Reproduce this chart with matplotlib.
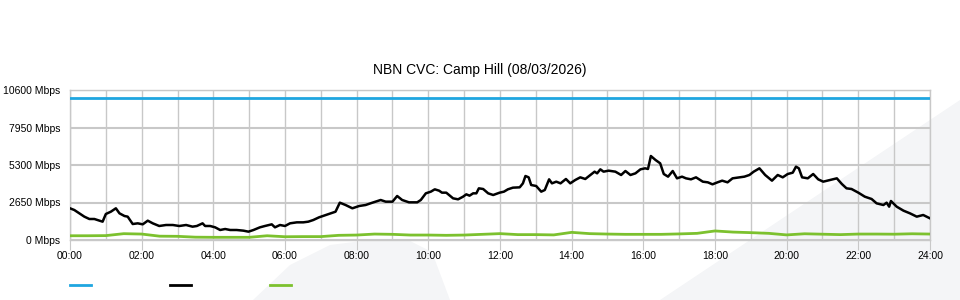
import matplotlib.pyplot as plt
from matplotlib.lines import Line2D
from matplotlib.patches import Polygon

plt.rcParams['font.family'] = ['Liberation Sans', 'DejaVu Sans']

# capacity line (Mbps)
cap_hours = [0, 24]
cap_values = [10000, 10000]

# total traffic (black)
traffic_hours = [0, 0.12, 0.26, 0.4, 0.54, 0.68, 0.82, 0.91, 1.0, 1.14, 1.28, 1.38, 1.52, 1.61, 1.75, 1.89,
                 2.03, 2.17, 2.31, 2.49, 2.68, 2.87, 3.05, 3.24, 3.42, 3.54, 3.70, 3.77, 3.91, 4.05, 4.19,
                 4.33, 4.47, 4.65, 4.84, 4.98, 5.12, 5.30, 5.44, 5.63, 5.72, 5.86, 6.0, 6.14, 6.33, 6.51,
                 6.65, 6.79, 6.95, 7.14, 7.28, 7.41, 7.53, 7.69, 7.88, 8.07, 8.25, 8.44, 8.67, 8.81, 9.0,
                 9.13, 9.27, 9.46, 9.69, 9.79, 9.93, 10.07, 10.18, 10.30, 10.38, 10.50, 10.69, 10.83,
                 10.97, 11.06, 11.15, 11.25, 11.34, 11.41, 11.53, 11.67, 11.81, 11.99, 12.11, 12.22,
                 12.36, 12.55, 12.64, 12.71, 12.80, 12.87, 13.01, 13.15, 13.25, 13.37, 13.45, 13.57,
                 13.69, 13.84, 13.96, 14.10, 14.24, 14.38, 14.52, 14.64, 14.71, 14.80, 14.89, 15.03,
                 15.22, 15.38, 15.50, 15.64, 15.78, 15.92, 16.05, 16.13, 16.21, 16.34, 16.47, 16.57,
                 16.69, 16.82, 16.94, 17.08, 17.19, 17.33, 17.47, 17.66, 17.80, 17.93, 18.07, 18.20,
                 18.35, 18.49, 18.68, 18.82, 18.96, 19.08, 19.24, 19.40, 19.59, 19.75, 19.89, 20.03,
                 20.17, 20.26, 20.34, 20.43, 20.59, 20.74, 20.88, 21.02, 21.21, 21.40, 21.54, 21.67,
                 21.81, 22.0, 22.18, 22.37, 22.51, 22.70, 22.79, 22.86, 22.91, 23.07, 23.26, 23.44,
                 23.63, 23.81, 24.0]
traffic_values = [2240, 2120, 1885, 1650, 1484, 1484, 1366, 1295, 1837, 2000, 2240, 1885, 1696, 1650, 1130, 1178,
                  1107, 1366, 1178, 990, 1060, 1060, 990, 1060, 942, 990, 1178, 990, 990, 895, 707,
                  777, 707, 707, 660, 589, 707, 895, 990, 1107, 895, 1060, 990, 1178, 1248, 1248,
                  1295, 1413, 1602, 1767, 1885, 2000, 2638, 2473, 2240, 2403, 2473, 2638, 2827, 2709, 2709,
                  3110, 2827, 2662, 2662, 2827, 3298, 3416, 3581, 3486, 3345, 3345, 2945, 2874,
                  3063, 3227, 3133, 3298, 3298, 3651, 3604, 3298, 3180, 3345, 3416, 3581,
                  3698, 3722, 4004, 4523, 4428, 3887, 3816, 3416, 3533, 4287, 4004, 4122,
                  4004, 4311, 4004, 4240, 4428, 4311, 4594, 4829, 4711, 4994, 4829, 4900,
                  4829, 4594, 4876, 4594, 4711, 4994, 5065, 5018, 5936, 5654, 5419, 4664,
                  4476, 4876, 4358, 4476, 4358, 4287, 4428, 4122, 4075, 3934, 4075, 4193,
                  4075, 4358, 4428, 4476, 4594, 4829, 5065, 4594, 4193, 4594, 4428, 4664,
                  4758, 5183, 5065, 4428, 4358, 4664, 4287, 4122, 4240, 4358, 3958, 3651,
                  3604, 3345, 3063, 2898, 2591, 2473, 2638, 2356, 2756, 2356, 2073, 1885,
                  1650, 1767, 1531]

# green series, sampled every half hour
green_hours = [i * 0.5 for i in range(49)]
green_values = [300, 300, 310, 447, 420, 270, 260, 200, 190, 190, 190, 300, 230, 240, 240, 330,
                350, 420, 400, 350, 350, 330, 350, 400, 450, 380, 380, 360, 540, 450, 420, 400,
                400, 400, 430, 470, 640, 560, 520, 470, 360, 440, 410, 380, 420, 420, 410, 440,
                420]

y_ticks = [0, 2650, 5300, 7950, 10600]
x_ticks = list(range(0, 25, 2))
x_labels = ['{:02d}:00'.format(h) for h in x_ticks]

blue = '#1fa6e0'
green = '#7cc12e'
grid = '#c8c8c8'

fig = plt.figure(figsize=(9.6, 3.0), dpi=100)

# faint background watermark
wm = '#f4f5f7'
fig.patches.append(Polygon([(660 / 960, 0), (1, 200 / 300), (1, 0)], closed=True,
                           transform=fig.transFigure, facecolor=wm, edgecolor='none', zorder=-5))
fig.patches.append(Polygon([(253 / 960, 0), (290 / 960, 35 / 300), (330 / 960, 55 / 300),
                            (370 / 960, 60 / 300), (410 / 960, 59 / 300), (432 / 960, 48 / 300),
                            (450 / 960, 0)], closed=True,
                           transform=fig.transFigure, facecolor=wm, edgecolor='none', zorder=-5))

ax = fig.add_axes([70 / 960, 60 / 300, 860 / 960, 150 / 300])
ax.set_facecolor('none')
ax.set_zorder(1)

ax.plot(cap_hours, cap_values, color=blue, linewidth=2, zorder=3)
ax.plot(traffic_hours, traffic_values, color='black', linewidth=1.8, zorder=3)
ax.plot(green_hours, green_values, color=green, linewidth=2, zorder=3)

ax.set_xlim(0, 24)
ax.set_ylim(0, 10600)
ax.set_yticks(y_ticks)
ax.set_yticklabels(['{} Mbps'.format(v) for v in y_ticks])
ax.set_xticks(x_ticks)
ax.set_xticklabels(x_labels)
ax.set_xticks(range(25), minor=True)

ax.grid(axis='x', which='both', color=grid, linewidth=1)
ax.grid(axis='y', color=grid, linewidth=1.5)
for s in ax.spines.values():
    s.set_color(grid)
    s.set_linewidth(1)
ax.tick_params(axis='y', length=0, pad=7, labelsize=7.5, colors='black')
ax.tick_params(axis='x', which='major', length=7, color=grid, pad=1, labelsize=7.5)
ax.tick_params(axis='x', which='minor', length=0)

fig.text(0.5, 1 - 70 / 300, 'NBN CVC: Camp Hill (08/03/2026)', ha='center', va='center', fontsize=10)

# legend swatches (no labels in the original)
for x0, c in [(70, blue), (170, 'black'), (270, green)]:
    fig.add_artist(Line2D([x0 / 960, (x0 + 21) / 960], [15 / 300, 15 / 300],
                          color=c, linewidth=2, transform=fig.transFigure))

fig.savefig('out.png', dpi=100)
